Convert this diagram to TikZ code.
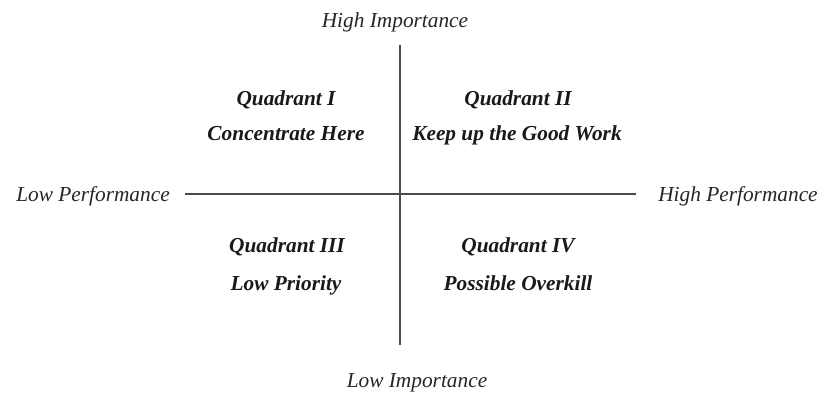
\documentclass[tikz,border=0pt]{standalone}
\usepackage{fontspec}
\setmainfont{Liberation Serif}
\begin{document}
\begin{tikzpicture}[x=0.75pt,y=-0.75pt,
  axislabel/.style={font=\fontsize{16}{19}\selectfont\itshape, text=black!85, inner sep=0pt, text height=0.72em, text depth=0.22em, yshift=-3pt},
  quadtext/.style={font=\fontsize{16}{19}\selectfont\bfseries\itshape, text=black!90, inner sep=0pt, text height=0.72em, text depth=0.22em, yshift=-3pt},
  axisline/.style={draw=black!70, line width=0.9pt}]
\useasboundingbox (0,0) rectangle (820,393);
\coordinate (vtop) at (400,45);
\coordinate (vbot) at (400,345);
\coordinate (hleft) at (185,194);
\coordinate (hright) at (636,194);
\draw[axisline] (vtop) -- (vbot);
\draw[axisline] (hleft) -- (hright);
\node[axislabel] (hi) at (395,20) {High Importance};
\node[axislabel] (li) at (417,380) {Low Importance};
\node[axislabel] (lp) at (93,194) {Low Performance};
\node[axislabel] (hp) at (738,194) {High Performance};
\node[quadtext] (q1) at (286,98) {Quadrant I};
\node[quadtext] (q1b) at (286,133) {Concentrate Here};
\node[quadtext] (q2) at (518,98) {Quadrant II};
\node[quadtext] (q2b) at (517,133) {Keep up the Good Work};
\node[quadtext] (q3) at (287,245) {Quadrant III};
\node[quadtext] (q3b) at (286,283) {Low Priority};
\node[quadtext] (q4) at (518,245) {Quadrant IV};
\node[quadtext] (q4b) at (518,283) {Possible Overkill};
\end{tikzpicture}
\end{document}
